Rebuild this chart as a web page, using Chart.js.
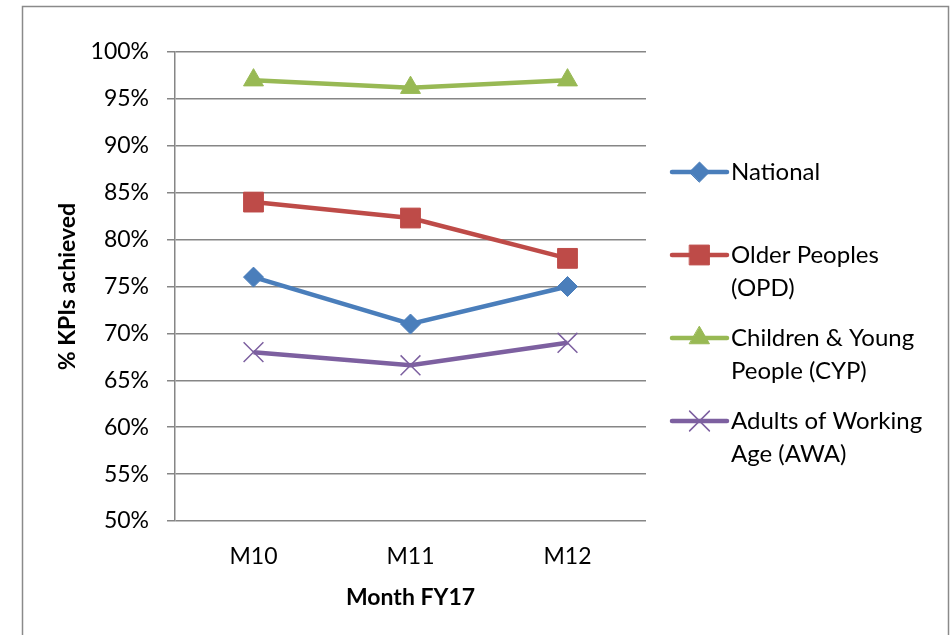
<!DOCTYPE html>
<html>
<head>
<meta charset="utf-8">
<script src="https://cdn.jsdelivr.net/npm/chart.js@4/dist/chart.umd.min.js"></script>
<style>
  html, body { margin: 0; padding: 0; background: #fff; }
  #wrap { width: 951px; height: 635px; position: relative; }
</style>
</head>
<body>
<div id="wrap"><canvas id="chart"></canvas></div>
<script>
const months = ['M10', 'M11', 'M12'];
const national = [76, 71, 75];
const olderPeoples = [84, 82.3, 78];
const childrenYoung = [97, 96.2, 97];
const adultsWorking = [68, 66.6, 69];

const seriesNames = ['National', 'Older Peoples (OPD)', 'Children & Young People (CYP)', 'Adults of Working Age (AWA)'];
const legendLines = [['National'], ['Older Peoples', '(OPD)'], ['Children & Young', 'People (CYP)'], ['Adults of Working', 'Age (AWA)']];

const FONT = 'Lato, "Open Sans", sans-serif';
const GRID = '#868686';

function series(i, data, color, style, radius, bw) {
    return {
        label: seriesNames[i],
        data: data,
        borderColor: color,
        backgroundColor: color,
        borderWidth: 4.5,
        pointStyle: style,
        pointRadius: radius,
        pointHoverRadius: radius,
        pointBackgroundColor: color,
        pointBorderColor: color,
        pointBorderWidth: bw,
        tension: 0
    };
}

// white page with grey frame
const framePlugin = {
    id: 'frame',
    beforeDraw(chart) {
        const ctx = chart.ctx;
        ctx.save();
        ctx.fillStyle = '#fff';
        ctx.fillRect(0, 0, chart.width, chart.height);
        ctx.strokeStyle = '#8a8a8a';
        ctx.lineWidth = 1.5;
        ctx.strokeRect(22.5, 6.5, 926, 660);
        ctx.restore();
    }
};

// Excel-style legend: line + marker, wrapped text
const legendPlugin = {
    id: 'excelLegend',
    afterDraw(chart) {
        const ctx = chart.ctx;
        const x0 = 672, x1 = 727, tx = 731;
        const startY = 172, itemGap = 83, lineGap = 33;
        ctx.save();
        chart.data.datasets.forEach((ds, i) => {
            const y = startY + itemGap * i;
            ctx.strokeStyle = ds.borderColor;
            ctx.lineWidth = 4.5;
            ctx.lineCap = 'round';
            ctx.beginPath();
            ctx.moveTo(x0, y);
            ctx.lineTo(x1, y);
            ctx.stroke();
            ctx.fillStyle = ds.pointBackgroundColor;
            ctx.strokeStyle = ds.pointBorderColor;
            ctx.lineWidth = ds.pointBorderWidth;
            Chart.helpers.drawPoint(ctx, {
                pointStyle: ds.pointStyle,
                radius: ds.pointRadius,
                rotation: 0,
                borderWidth: ds.pointBorderWidth
            }, (x0 + x1) / 2, y);
            ctx.fillStyle = '#000';
            ctx.font = '24px ' + FONT;
            ctx.textAlign = 'left';
            ctx.textBaseline = 'middle';
            legendLines[i].forEach((t, j) => ctx.fillText(t, tx, y + lineGap * j));
        });
        ctx.restore();
    }
};

new Chart(document.getElementById('chart'), {
    type: 'line',
    data: {
        labels: months,
        datasets: [
            series(0, national, '#4A7EBB', 'rectRot', 10, 1),
            series(1, olderPeoples, '#BE4B48', 'rect', 14, 1),
            series(2, childrenYoung, '#98B954', 'triangle', 11.5, 1),
            series(3, adultsWorking, '#7D60A0', 'crossRot', 14, 1.5)
        ]
    },
    options: {
        responsive: true,
        maintainAspectRatio: false,
        animation: false,
        layout: { padding: { left: 0, top: 52, right: 305, bottom: 0 } },
        plugins: {
            legend: { display: false },
            tooltip: { enabled: false }
        },
        scales: {
            x: {
                offset: true,
                grid: { display: false, drawTicks: false },
                border: { display: false },
                ticks: { color: '#000', font: { family: FONT, size: 23 }, padding: 22 },
                title: {
                    display: true,
                    text: 'Month FY17',
                    color: '#000',
                    font: { family: FONT, size: 23, weight: 'bold' },
                    padding: { top: 0, bottom: 24 }
                },
                afterFit(scale) { scale.height = 114; }
            },
            y: {
                min: 50,
                max: 100,
                grid: { color: GRID, lineWidth: 1.5, tickLength: 8, drawTicks: true },
                border: { display: true, color: GRID, width: 1.5 },
                ticks: {
                    stepSize: 5,
                    color: '#000',
                    padding: 18,
                    font: { family: FONT, size: 23 },
                    callback: v => v + '%'
                },
                title: {
                    display: true,
                    text: '% KPIs achieved',
                    color: '#000',
                    font: { family: FONT, size: 23, weight: 'bold' },
                    padding: { top: 54, bottom: 0 }
                },
                afterFit(scale) { scale.width = 175; }
            }
        }
    },
    plugins: [framePlugin, legendPlugin]
});
</script>
</body>
</html>
